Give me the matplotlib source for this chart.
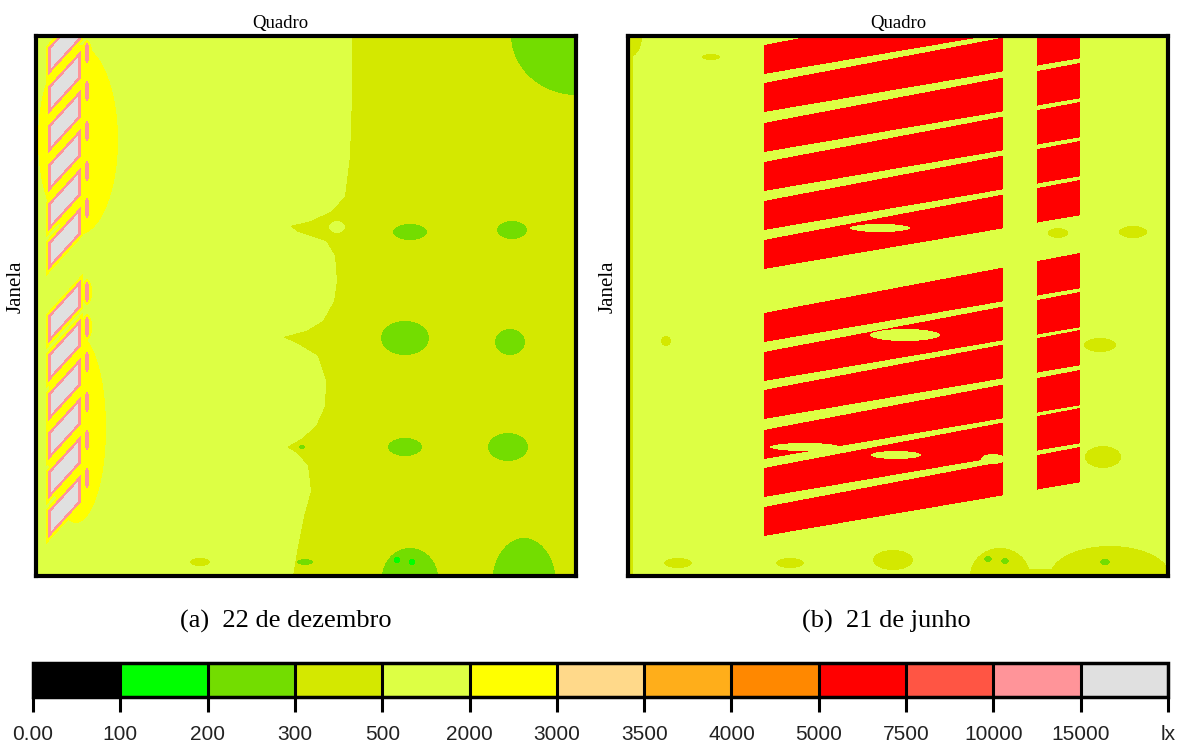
import numpy as np
import matplotlib
matplotlib.use("Agg")
import matplotlib.pyplot as plt
from matplotlib.colors import ListedColormap, BoundaryNorm
from matplotlib.cm import ScalarMappable

# legend classes (lx)
bounds = [0, 100, 200, 300, 500, 2000, 3000, 3500, 4000, 5000, 7500, 10000, 15000, 20000]
tick_labels = ["0.00", "100", "200", "300", "500", "2000", "3000", "3500",
               "4000", "5000", "7500", "10000", "15000", "lx"]
class_colors = ["#000000", "#00ff00", "#73dd00", "#d4e800", "#ddff44", "#ffff00",
                "#ffd98a", "#ffae1a", "#ff8800", "#ff0000", "#ff5544", "#ff9499", "#e0e0e0"]

# representative lux for each zone seen on the maps
LUX_BGREEN, LUX_GREEN, LUX_DARK, LUX_LIGHT = 150, 250, 400, 1000
LUX_YELLOW, LUX_RED, LUX_PINK, LUX_GREY = 2500, 6000, 12000, 17000

# ---- (a) 22 de dezembro ----
# edge between 500-2000 (left) and 300-500 (right): (y, x)
edge_a_y = [0, 60, 120, 160, 175, 185, 190, 196, 205, 220, 245, 265, 285, 295, 301,
            308, 320, 345, 370, 390, 403, 411, 418, 430, 455, 480, 510, 540]
edge_a_x = [316, 316, 314, 309, 296, 275, 254, 262, 290, 299, 301, 298, 287, 270, 247,
            262, 282, 290, 289, 280, 265, 251, 262, 272, 275, 268, 262, 257]
# ellipses (cx, cy, rx, ry)
green_a = [(374, 196, 17, 8), (476, 194, 15, 9), (369, 302, 24, 17), (474, 306, 15, 13),
           (369, 411, 17, 9), (472, 411, 20, 14), (541, -1, 66, 60), (488, 548, 32, 46),
           (374, 542, 28, 30), (269, 526, 8, 3), (266, 411, 3, 2)]
bright_green_a = [(361, 524, 3, 3), (376, 526, 3, 3)]
dark_a = [(164, 526, 10, 4)]
light_holes_a = [(301, 191, 8, 6)]
glow_a = [(42, 104, 40, 95), (40, 392, 30, 95)]
louver_tops_a = [-20, 19, 58, 97, 136, 175, 248, 287, 326, 365, 404, 443]
louver_x_a = (14, 43)
oval_y_a = [17, 55, 95, 135, 172, 256, 291, 326, 366, 404, 442]
oval_x_a = 51

# ---- (b) 21 de junho ----
stripe_tops_b = [9, 47, 87, 126, 165, 204, 277, 316, 354, 394, 432, 471]
stripe_cols_b = [(136, 375), (409, 452)]
light_holes_b = [(252, 192, 30, 4), (277, 299, 35, 6), (177, 411, 35, 4),
                 (268, 419, 25, 4), (365, 423, 12, 5)]
dark_b = [(83, 21, 9, 3), (430, 197, 10, 5), (505, 196, 14, 6), (38, 305, 5, 5),
          (472, 309, 16, 7), (475, 421, 18, 11), (50, 527, 14, 5), (162, 527, 14, 5),
          (265, 524, 20, 10), (372, 540, 30, 28), (482, 540, 60, 30), (0, 0, 14, 22)]
green_b = [(360, 523, 4, 3), (377, 525, 4, 3), (477, 526, 5, 3)]

N = 540
gx, gy = np.meshgrid(np.arange(N) + 0.5, np.arange(N) + 0.5)


def ell(cx, cy, rx, ry):
    return ((gx - cx) / rx) ** 2 + ((gy - cy) / ry) ** 2 <= 1


def louver(top, x0, x1, grow, k=1.1, th=23):
    yt = top + k * (x1 - gx)
    return ((gx >= x0 - grow) & (gx <= x1 + grow)
            & (gy >= yt - 1.5 * grow) & (gy <= yt + th + 1.5 * grow))


def stripe(top, x0, x1, k=0.19, th=29):
    yt = top - k * (gx - 136)
    return (gx >= x0) & (gx <= x1) & (gy >= yt) & (gy <= yt + th + 0.02 * (gx - 136))


# field (a)
fa = np.full(gx.shape, LUX_LIGHT, dtype=float)
fa[gx > np.interp(gy, edge_a_y, edge_a_x)] = LUX_DARK
for e in light_holes_a:
    fa[ell(*e)] = LUX_LIGHT
for e in dark_a:
    fa[ell(*e)] = LUX_DARK
for e in green_a:
    fa[ell(*e)] = LUX_GREEN
for e in bright_green_a:
    fa[ell(*e)] = LUX_BGREEN
for e in glow_a:
    fa[ell(*e)] = LUX_YELLOW
for t in louver_tops_a:
    fa[louver(t, *louver_x_a, 4)] = LUX_YELLOW
for oy in oval_y_a:
    fa[ell(oval_x_a, oy, 5, 13)] = LUX_YELLOW
for t in louver_tops_a:
    fa[louver(t, *louver_x_a, 1.5)] = LUX_PINK
    fa[louver(t, *louver_x_a, -1)] = LUX_GREY
for oy in oval_y_a:
    fa[ell(oval_x_a, oy, 2.5, 10)] = LUX_PINK

# field (b)
fb = np.full(gx.shape, LUX_LIGHT, dtype=float)
fb[gx < 5] = LUX_DARK
fb[(gy > 533) & (gx > 357)] = LUX_DARK
for e in dark_b:
    fb[ell(*e)] = LUX_DARK
for e in green_b:
    fb[ell(*e)] = LUX_GREEN
for t in stripe_tops_b:
    for c in stripe_cols_b:
        fb[stripe(t, *c)] = LUX_RED
for e in light_holes_b:
    fb[ell(*e)] = LUX_LIGHT

cmap = ListedColormap(class_colors)
norm = BoundaryNorm(bounds, cmap.N)

fig = plt.figure(figsize=(11.92, 7.51), dpi=100)
W, H = 1192, 751
serif = "Liberation Serif"

for left, field, title_x in [(36, fa, 0.452), (628, fb, 0.5)]:
    ax = fig.add_axes([left / W, (H - 576) / H, 540 / W, 540 / H])
    ax.imshow(field, cmap=cmap, norm=norm, extent=(0, N, N, 0), interpolation="nearest")
    ax.set_xticks([])
    ax.set_yticks([])
    for s in ax.spines.values():
        s.set_linewidth(3)
    ax.set_title("Quadro", family=serif, fontsize=13.5, x=title_x, pad=6)
    ax.set_ylabel("Janela", family=serif, fontsize=15)
    ax.yaxis.set_label_coords(-0.019, 0.535)

fig.text(286 / W, 1 - 621 / H, "(a)  22 de dezembro", family=serif, fontsize=19,
         ha="center", va="center")
fig.text(886 / W, 1 - 621 / H, "(b)  21 de junho", family=serif, fontsize=19,
         ha="center", va="center")

cax = fig.add_axes([33 / W, (H - 697) / H, 1135 / W, 34 / H])
cb = fig.colorbar(ScalarMappable(norm=norm, cmap=cmap), cax=cax, orientation="horizontal",
                  spacing="uniform", ticks=bounds, drawedges=True)
cb.outline.set_linewidth(2.5)
cb.dividers.set_linewidth(2.2)
cb.set_ticklabels(tick_labels)
cax.tick_params(length=11, width=2.2, labelsize=15, pad=9, labelcolor="#222222")
for t in cax.get_xticklabels():
    t.set_family("Liberation Sans")

fig.savefig("out.png", dpi=100)
